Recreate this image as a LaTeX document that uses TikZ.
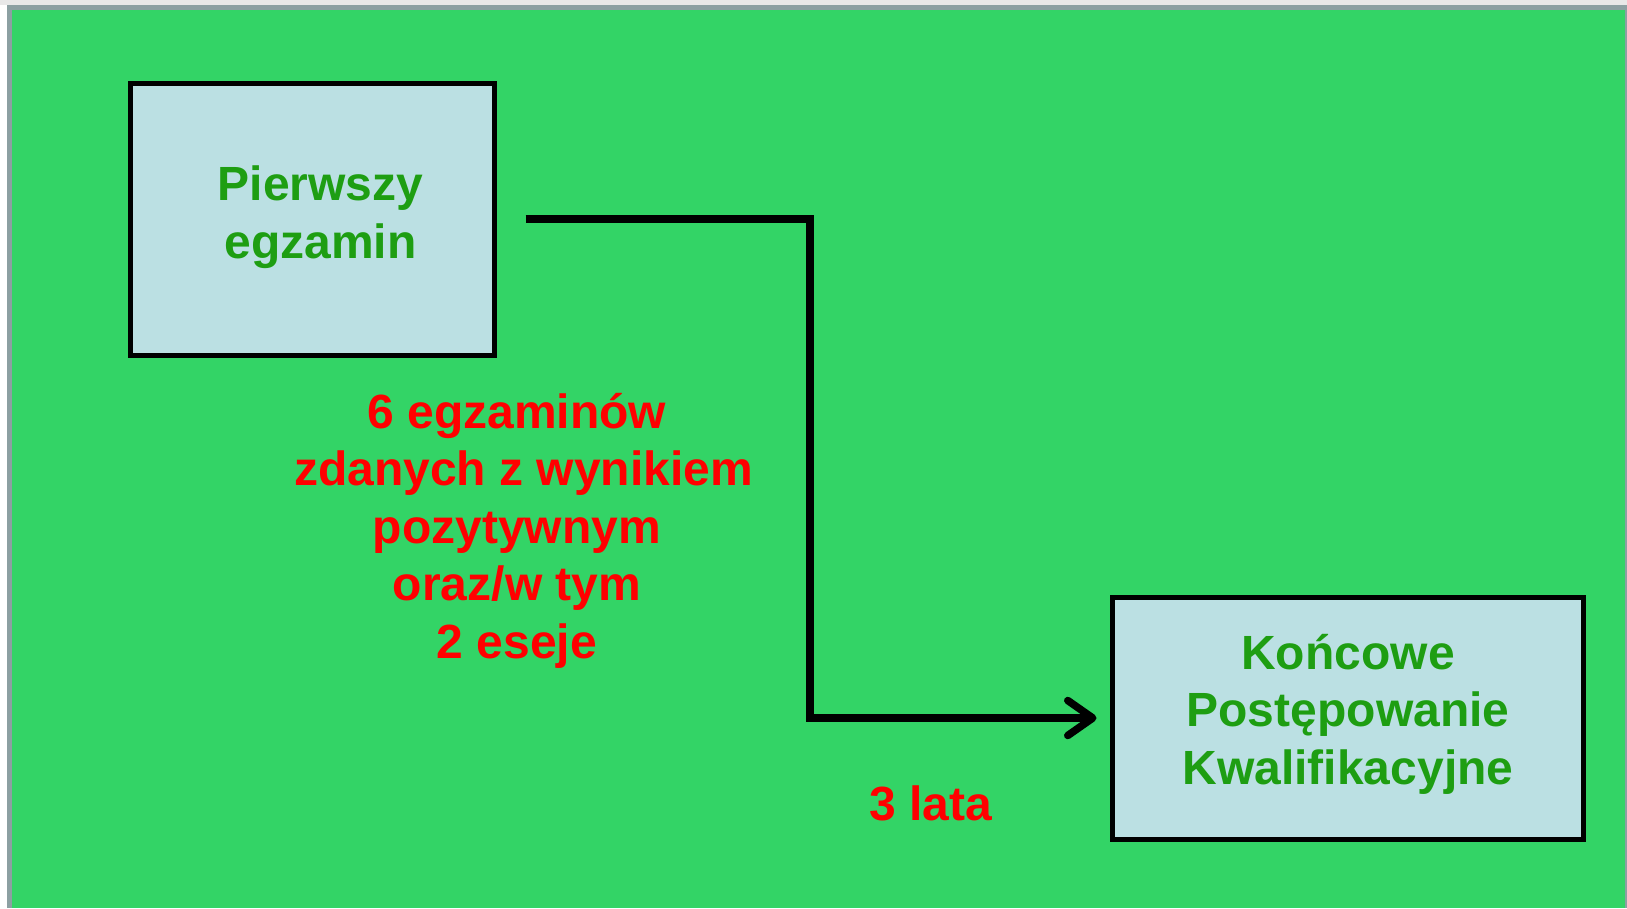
\documentclass[tikz,border=0pt]{standalone}
\usepackage{fontspec}
\setmainfont{Liberation Sans}
\usetikzlibrary{arrows.meta}
\definecolor{bggreen}{RGB}{51,212,102}
\definecolor{boxfill}{RGB}{187,224,227}
\definecolor{txtgreen}{RGB}{30,158,18}
\definecolor{framegray}{RGB}{140,160,162}
\definecolor{topgray}{RGB}{232,232,232}
\tikzset{
  box/.style={draw=black, line width=5pt, fill=boxfill, inner sep=0pt},
  boxtext/.style={text=txtgreen, align=center,
    font=\fontsize{48}{57.5}\selectfont\bfseries, inner sep=0pt},
  redlabel/.style={text=red, align=center, font=\fontsize{48}{57.5}\selectfont\bfseries, inner sep=0pt},
  conn/.style={draw=black, line width=7.5pt, line join=miter,
    -{Straight Barb[length=25pt, width=35pt, line cap=round, line join=round]}}
}
\begin{document}
\begin{tikzpicture}[x=1pt, y=-1pt]
\useasboundingbox (0,0) rectangle (1627,908);
\fill[white] (0,0) rectangle (1627,908);
\fill[topgray] (0,0) rectangle (1627,5);
\fill[framegray] (7,5) rectangle (1627,908);
\fill[bggreen] (12,10) rectangle (1625,908);
\node[box, minimum width=364pt, minimum height=272pt] (b1) at (312,219) {};
\node[boxtext] (t1) at (320.5,217) {Pierwszy\\egzamin};
\node[box, minimum width=471pt, minimum height=242pt] (b2) at (1347.5,718) {};
\node[boxtext] (t2) at (1348,714) {Końcowe\\Postępowanie\\Kwalifikacyjne};
\coordinate (k) at (810,0);
\draw[conn] ([xshift=29pt]b1.east) -| (k |- b2.west) -- ([xshift=-13pt]b2.west);
\node[redlabel] (cond) at (517,530.5) {6 egzaminów\\\kern\fontdimen2\font zdanych z wynikiem\\pozytywnym\\oraz/w tym\\2 eseje};
\node[redlabel] (time) at (931,803) {3 lata};
\end{tikzpicture}
\end{document}
